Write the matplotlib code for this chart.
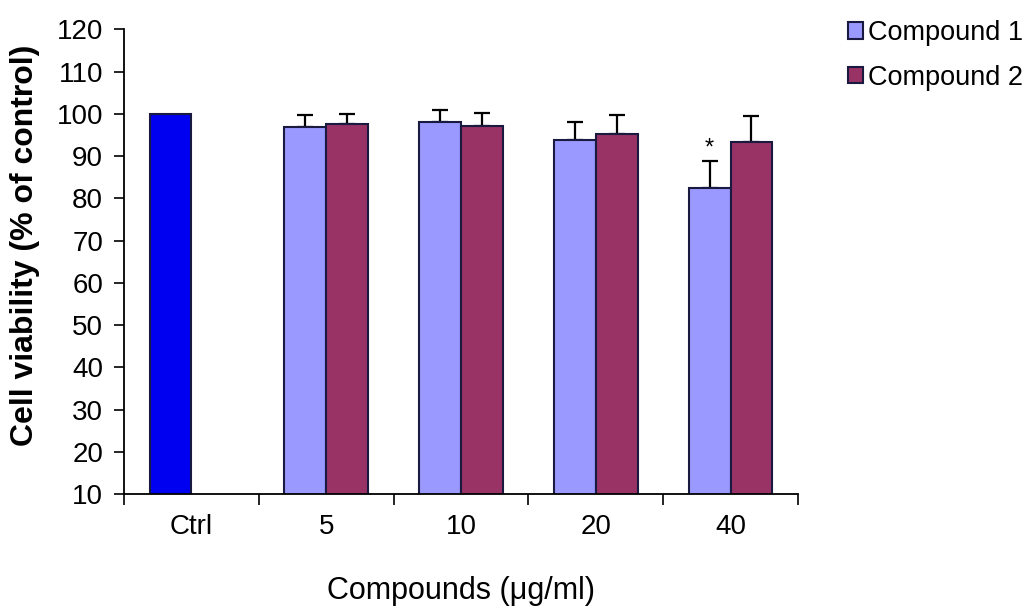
import matplotlib
matplotlib.use("Agg")
import matplotlib.pyplot as plt
import numpy as np

plt.rcParams['font.family'] = ['Liberation Sans', 'DejaVu Sans']

categories = ['Ctrl', '5', '10', '20', '40']
ctrl_value = 100.0
compound1 = [97.0, 98.1, 93.8, 82.5]
compound2 = [97.6, 97.1, 95.2, 93.4]
compound1_err = [2.8, 2.8, 4.2, 6.4]
compound2_err = [2.3, 3.2, 4.6, 6.1]
series_names = ['Compound 1', 'Compound 2']

c_ctrl = '#0000F0'
c1_col = '#9999FF'
c2_col = '#993366'
edge = '#1a1a40'

fig = plt.figure(figsize=(10.26, 6.08), dpi=100)
ax = fig.add_axes([124/1026, 113.7/608, (798-124)/1026, (494.3-29.3)/608])

w = 0.31
x = np.arange(len(categories))
xd = x[1:]

ax.bar(x[0] - w/2, ctrl_value, width=w, bottom=0, color=c_ctrl, edgecolor=edge, linewidth=1.5, zorder=2)
b1 = ax.bar(xd - w/2, compound1, width=w, color=c1_col, edgecolor=edge, linewidth=1.5, zorder=2)
b2 = ax.bar(xd + w/2, compound2, width=w, color=c2_col, edgecolor=edge, linewidth=1.5, zorder=2)

ax.errorbar(xd - w/2, compound1, yerr=[np.zeros(4), compound1_err], fmt='none',
            ecolor='black', elinewidth=1.6, capsize=6, capthick=1.6, zorder=1)
ax.errorbar(xd + w/2, compound2, yerr=[np.zeros(4), compound2_err], fmt='none',
            ecolor='black', elinewidth=1.6, capsize=6, capthick=1.6, zorder=1)

# significance marker
ax.text(xd[3] - w/2, compound1[3] + compound1_err[3] + 0.2, '*', ha='center', va='bottom',
        fontsize=17, color='black')

ax.set_xlim(-0.5, len(categories) - 0.5)
ax.set_ylim(10, 120)
ax.set_yticks(np.arange(10, 121, 10))
ax.set_xticks(np.arange(-0.5, len(categories), 1.0))
ax.set_xticklabels([])
ax.set_xticks(x, minor=True)
ax.set_xticklabels(categories, minor=True)
ax.tick_params(axis='x', which='major', direction='out', length=8, width=1.2)
ax.tick_params(axis='x', which='minor', length=0, pad=14, labelsize=20)
ax.tick_params(axis='y', direction='out', length=7, width=1.2, labelsize=20, pad=8)

for s in ['top', 'right']:
    ax.spines[s].set_visible(False)
for s in ['left', 'bottom']:
    ax.spines[s].set_linewidth(1.3)

ax.set_xlabel('Compounds (\u03bcg/ml)', fontsize=22, labelpad=26)
ax.set_ylabel('Cell viability (% of control)', fontsize=23, fontweight='bold')
ax.yaxis.set_label_coords(-0.124, 0.535)

leg = fig.legend([b1, b2], series_names, loc='upper left', bbox_to_anchor=(0.816, 0.985),
                 frameon=False, fontsize=19.5, handlelength=0.55, handleheight=0.55,
                 handletextpad=0.2, labelspacing=0.7, borderaxespad=0)

fig.savefig('out.png', dpi=100)
